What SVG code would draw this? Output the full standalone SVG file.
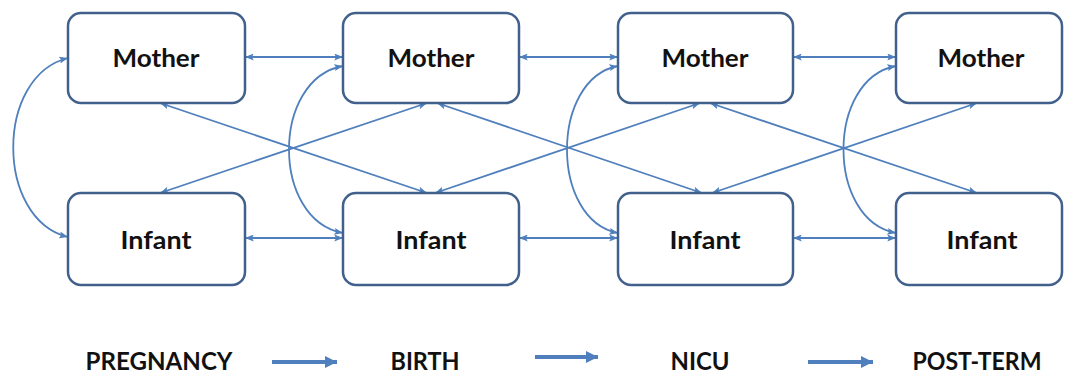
<svg xmlns="http://www.w3.org/2000/svg" width="1065" height="374" viewBox="0 0 1065 374">
  <style>
    .box { fill: #ffffff; stroke: #41608c; stroke-width: 2.5; }
    .lbl { font-family: Lato, "Open Sans", "Liberation Sans", sans-serif; font-weight: bold; font-size: 24px; fill: #111111; text-anchor: middle; }
    .con { fill: none; stroke: #4f7fbd; stroke-width: 1.8; marker-start: url(#ah); marker-end: url(#ah); }
    .big { fill: none; stroke: #4f7fbd; stroke-width: 4; marker-end: url(#bh); }
  </style>
  <defs>
    <marker id="ah" viewBox="0 0 10 8" refX="10" refY="4" markerWidth="9" markerHeight="7" markerUnits="userSpaceOnUse" orient="auto-start-reverse">
      <path d="M0,0 L10,4 L0,8 L2,4 z" fill="#4f7fbd"/>
    </marker>
    <marker id="bh" viewBox="0 0 12 12" refX="12" refY="6" markerWidth="12" markerHeight="13" markerUnits="userSpaceOnUse" orient="auto">
      <path d="M0,0 L12,6 L0,12 z" fill="#4f7fbd"/>
    </marker>
  </defs>

  <g id="connectors">
    <!-- horizontal -->
    <line class="con" x1="245" y1="57" x2="343" y2="57"/>
    <line class="con" x1="519" y1="57" x2="618" y2="57"/>
    <line class="con" x1="793" y1="57" x2="896" y2="57"/>
    <line class="con" x1="245" y1="238" x2="343" y2="238"/>
    <line class="con" x1="519" y1="238" x2="618" y2="238"/>
    <line class="con" x1="793" y1="238" x2="896" y2="238"/>
    <!-- curves -->
    <path class="con" d="M68 58 C-5 76, -5 219, 68 237"/>
    <path class="con" d="M343 66 C271 79, 271 220, 343 233"/>
    <path class="con" d="M618 66 C550 79, 550 220, 618 233"/>
    <path class="con" d="M896 66 C826 79, 826 220, 896 233"/>
    <!-- diagonals -->
    <line class="con" x1="160" y1="103" x2="427" y2="193"/>
    <line class="con" x1="160" y1="193" x2="427" y2="103"/>
    <line class="con" x1="437" y1="103" x2="702" y2="193"/>
    <line class="con" x1="435" y1="193" x2="700" y2="103"/>
    <line class="con" x1="710" y1="103" x2="977" y2="193"/>
    <line class="con" x1="712" y1="193" x2="977" y2="103"/>
  </g>

  <g id="mother1"><rect class="box" x="68" y="13" width="177" height="90" rx="13"/><text class="lbl" x="156" y="67" textLength="87" lengthAdjust="spacingAndGlyphs">Mother</text></g>
  <g id="mother2"><rect class="box" x="343" y="13" width="176" height="90" rx="13"/><text class="lbl" x="431" y="67" textLength="87" lengthAdjust="spacingAndGlyphs">Mother</text></g>
  <g id="mother3"><rect class="box" x="618" y="13" width="175" height="90" rx="13"/><text class="lbl" x="705" y="67" textLength="87" lengthAdjust="spacingAndGlyphs">Mother</text></g>
  <g id="mother4"><rect class="box" x="896" y="13" width="166" height="90" rx="13"/><text class="lbl" x="981" y="67" textLength="87" lengthAdjust="spacingAndGlyphs">Mother</text></g>

  <g id="infant1"><rect class="box" x="68" y="193" width="177" height="92" rx="13"/><text class="lbl" x="156" y="249" textLength="71" lengthAdjust="spacingAndGlyphs">Infant</text></g>
  <g id="infant2"><rect class="box" x="343" y="193" width="176" height="92" rx="13"/><text class="lbl" x="431" y="249" textLength="71" lengthAdjust="spacingAndGlyphs">Infant</text></g>
  <g id="infant3"><rect class="box" x="618" y="193" width="175" height="92" rx="13"/><text class="lbl" x="705" y="249" textLength="71" lengthAdjust="spacingAndGlyphs">Infant</text></g>
  <g id="infant4"><rect class="box" x="896" y="193" width="166" height="92" rx="13"/><text class="lbl" x="982" y="249" textLength="71" lengthAdjust="spacingAndGlyphs">Infant</text></g>

  <g id="timeline">
    <text class="lbl" x="159" y="370" textLength="147" lengthAdjust="spacingAndGlyphs">PREGNANCY</text>
    <line class="big" x1="272" y1="362" x2="337" y2="362"/>
    <text class="lbl" x="425" y="370" textLength="69" lengthAdjust="spacingAndGlyphs">BIRTH</text>
    <line class="big" x1="535" y1="357" x2="598" y2="357"/>
    <text class="lbl" x="700" y="370" textLength="59" lengthAdjust="spacingAndGlyphs">NICU</text>
    <line class="big" x1="808" y1="362" x2="873" y2="362"/>
    <text class="lbl" x="977" y="370" textLength="129" lengthAdjust="spacingAndGlyphs">POST-TERM</text>
  </g>
</svg>
